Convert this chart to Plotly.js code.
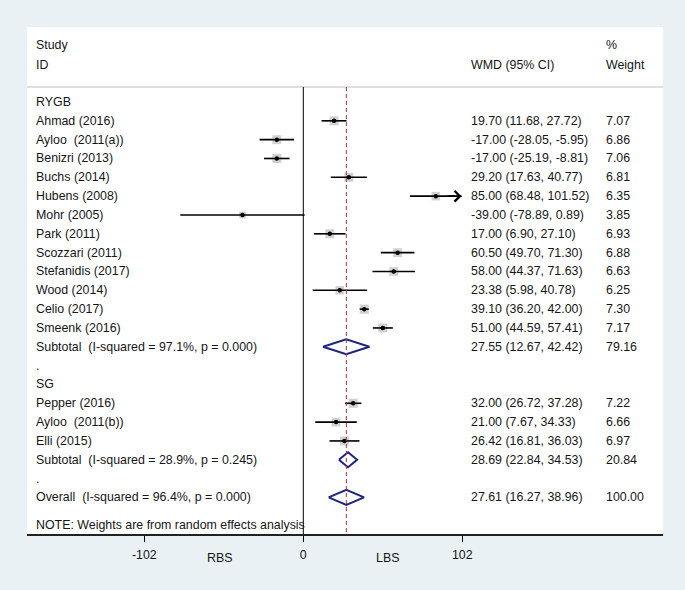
<!DOCTYPE html>
<html>
<head>
<meta charset="utf-8">
<script src="https://cdn.plot.ly/plotly-3.0.1.min.js"></script>
<style>html,body{margin:0;padding:0;background:#e9f1f4;}#chart{width:685px;height:590px;}</style>
</head>
<body>
<div id="chart"></div>
<script>
// ---- Data ----
const groupNames = ["RYGB", "SG"];
const rygbStudies = ["Ahmad (2016)", "Ayloo  (2011(a))", "Benizri (2013)", "Buchs (2014)", "Hubens (2008)", "Mohr (2005)", "Park (2011)", "Scozzari (2011)", "Stefanidis (2017)", "Wood (2014)", "Celio (2017)", "Smeenk (2016)"];
const rygbEst = [19.70, -17.00, -17.00, 29.20, 85.00, -39.00, 17.00, 60.50, 58.00, 23.38, 39.10, 51.00];
const rygbLo  = [11.68, -28.05, -25.19, 17.63, 68.48, -78.89, 6.90, 49.70, 44.37, 5.98, 36.20, 44.59];
const rygbHi  = [27.72, -5.95, -8.81, 40.77, 101.52, 0.89, 27.10, 71.30, 71.63, 40.78, 42.00, 57.41];
const rygbW   = [7.07, 6.86, 7.06, 6.81, 6.35, 3.85, 6.93, 6.88, 6.63, 6.25, 7.30, 7.17];

const sgStudies = ["Pepper (2016)", "Ayloo  (2011(b))", "Elli (2015)"];
const sgEst = [32.00, 21.00, 26.42];
const sgLo  = [26.72, 7.67, 16.81];
const sgHi  = [37.28, 34.33, 36.03];
const sgW   = [7.22, 6.66, 6.97];

const subtotalLabels = ["Subtotal  (I-squared = 97.1%, p = 0.000)", "Subtotal  (I-squared = 28.9%, p = 0.245)"];
const subtotalEst = [27.55, 28.69];
const subtotalLo  = [12.67, 22.84];
const subtotalHi  = [42.42, 34.53];
const subtotalW   = [79.16, 20.84];

const overallLabel = "Overall  (I-squared = 96.4%, p = 0.000)";
const overallEst = 27.61, overallLo = 16.27, overallHi = 38.96, overallW = 100.00;

const noteText = "NOTE: Weights are from random effects analysis";
const xTickVals = [-102, 0, 102];
const xTickText = ["-102", "0", "102"];
const sideLabels = ["RBS", "LBS"];
const headerStudy = ["Study", "ID"];
const headerEffect = "WMD (95% CI)";
const headerWeight = ["%", "Weight"];
const ARROW_LIMIT = 100;

// ---- Layout constants ----
const W = 685, H = 590;
const L = 27, R = 663, T = 27, B = 534;
const pxPerUnit = 159 / 102;
const zeroPx = 303.3;
const xRange = [(L - zeroPx) / pxPerUnit, (R - zeroPx) / pxPerUnit];
const rowPx = 18.83, row0Px = 102;
const yTop = (T - row0Px) / rowPx, yBot = (B - row0Px) / rowPx;
const fontFam = "Liberation Sans, Arial, sans-serif";
const fs = 12.4;
const txtCol = "#161616";
const px2paper = p => (p - L) / (R - L);
const colStudy = px2paper(34), colEff = px2paper(469), colW = px2paper(604);
const navy = "#1c2580";

// ---- Build rows ----
const rows = [];
let r = 0;
const groups = [
  {name: groupNames[0], s: rygbStudies, e: rygbEst, lo: rygbLo, hi: rygbHi, w: rygbW},
  {name: groupNames[1], s: sgStudies, e: sgEst, lo: sgLo, hi: sgHi, w: sgW}
];
groups.forEach((g, gi) => {
  rows.push({label: g.name, kind: "head", y: r++});
  g.s.forEach((s, i) => rows.push({label: s, kind: "study", est: g.e[i], lo: g.lo[i], hi: g.hi[i], w: g.w[i], y: r++}));
  rows.push({label: subtotalLabels[gi], kind: "sum", est: subtotalEst[gi], lo: subtotalLo[gi], hi: subtotalHi[gi], w: subtotalW[gi], y: r++});
  rows.push({label: ".", kind: "dot", y: r++});
});
rows.push({label: overallLabel, kind: "sum", est: overallEst, lo: overallLo, hi: overallHi, w: overallW, y: r++});

const studies = rows.filter(d => d.kind === "study");
const sums = rows.filter(d => d.kind === "sum");

const ciX = [], ciY = [];
studies.forEach(d => { ciX.push(d.lo, d.hi, null); ciY.push(d.y, d.y, null); });

const dh = 0.4;
const dX = [], dY = [];
sums.forEach(d => {
  dX.push(d.lo, d.est, d.hi, d.est, d.lo, null);
  dY.push(d.y, d.y - dh, d.y, d.y + dh, d.y, null);
});

const traces = [
  {x: studies.map(d => d.est), y: studies.map(d => d.y), mode: "markers", type: "scatter",
   marker: {symbol: "square", color: "#bdbdbd", size: studies.map(d => 3.4 * Math.sqrt(d.w)), line: {width: 0}},
   hoverinfo: "skip"},
  {x: ciX, y: ciY, mode: "lines", type: "scatter", line: {color: "#000", width: 1.6}, hoverinfo: "skip"},
  {x: studies.map(d => d.est), y: studies.map(d => d.y), mode: "markers", type: "scatter",
   marker: {symbol: "circle", color: "#000", size: 4.5}, hoverinfo: "skip"},
  {x: dX, y: dY, mode: "lines", type: "scatter", line: {color: navy, width: 2}, hoverinfo: "skip"}
];

const ann = [];
const addText = (x, y, text, xref) => ann.push({x: x, y: y, xref: xref || "paper", yref: "y", text: text, showarrow: false,
  xanchor: "left", yanchor: "middle", font: {family: fontFam, size: fs, color: txtCol}});

addText(colStudy, (45 - row0Px) / rowPx, headerStudy[0]);
addText(colStudy, (65 - row0Px) / rowPx, headerStudy[1]);
addText(colEff, (65 - row0Px) / rowPx, headerEffect);
addText(colW, (45 - row0Px) / rowPx, headerWeight[0]);
addText(colW, (65 - row0Px) / rowPx, headerWeight[1]);

rows.forEach(d => {
  addText(colStudy, d.y, d.label);
  if (d.kind === "study" || d.kind === "sum") {
    addText(colEff, d.y, d.est.toFixed(2) + " (" + d.lo.toFixed(2) + ", " + d.hi.toFixed(2) + ")");
    addText(colW, d.y, d.w.toFixed(2));
  }
});
addText(colStudy, (525 - row0Px) / rowPx, noteText);

studies.filter(d => d.hi > ARROW_LIMIT).forEach(d => {
  ann.push({x: d.hi, y: d.y, ax: d.hi - 10, ay: d.y, xref: "x", yref: "y", axref: "x", ayref: "y",
    showarrow: true, arrowhead: 4, arrowsize: 1.3, arrowwidth: 1.6, arrowcolor: "#000", text: ""});
});

const sideY = (B - 558) / (B - T);
ann.push({x: -54, y: sideY, xref: "x", yref: "paper", text: sideLabels[0], showarrow: false, yanchor: "middle",
  font: {family: fontFam, size: fs, color: txtCol}});
ann.push({x: 54, y: sideY, xref: "x", yref: "paper", text: sideLabels[1], showarrow: false, yanchor: "middle",
  font: {family: fontFam, size: fs, color: txtCol}});

const hdrLineY = (87 - row0Px) / rowPx;
const shapes = [
  {type: "line", xref: "paper", yref: "y", x0: 0, x1: 1, y0: hdrLineY, y1: hdrLineY, line: {color: "#d4d4d4", width: 1.5}},
  {type: "line", xref: "x", yref: "y", x0: 0, x1: 0, y0: hdrLineY, y1: yBot, line: {color: "#000", width: 1}},
  {type: "line", xref: "x", yref: "y", x0: overallEst, x1: overallEst, y0: hdrLineY, y1: yBot, line: {color: "#b5303a", width: 1, dash: "4px,3px"}}
];

const layout = {
  width: W, height: H,
  paper_bgcolor: "#e9f1f4", plot_bgcolor: "#ffffff",
  margin: {l: L, r: W - R, t: T, b: H - B, pad: 0},
  showlegend: false,
  xaxis: {range: xRange, tickvals: xTickVals, ticktext: xTickText, ticks: "outside", ticklen: 6, tickcolor: "#000",
    ticklabelstandoff: 3,
    showline: true, linecolor: "#222", linewidth: 1.5, showgrid: false, zeroline: false,
    tickfont: {family: fontFam, size: fs, color: txtCol}, fixedrange: true},
  yaxis: {range: [yBot, yTop], visible: false, showgrid: false, zeroline: false, fixedrange: true},
  shapes: shapes, annotations: ann,
  font: {family: fontFam, size: fs, color: txtCol}
};

Plotly.newPlot("chart", traces, layout, {displayModeBar: false, staticPlot: true});
</script>
</body>
</html>
